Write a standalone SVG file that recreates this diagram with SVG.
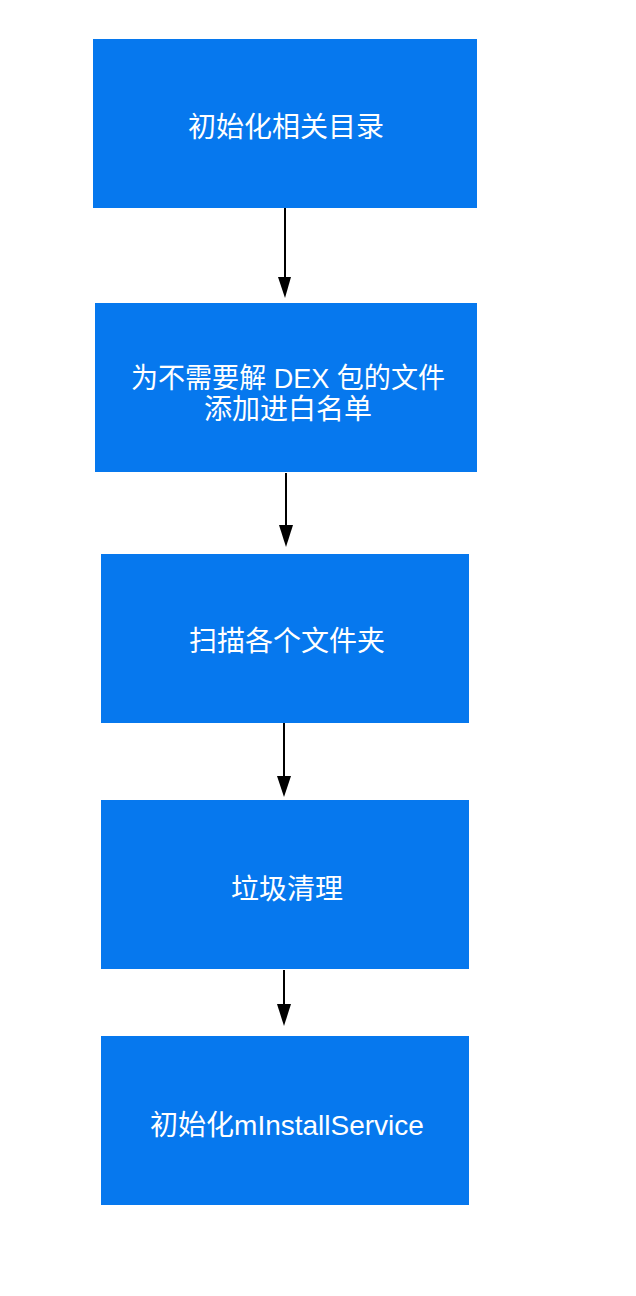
<svg xmlns="http://www.w3.org/2000/svg" width="636" height="1296" viewBox="0 0 636 1296">
<style>
.box{fill:#0678EE;}
.t{font-family:"Liberation Sans","Noto Sans CJK SC",sans-serif;font-size:28px;fill:#ffffff;text-anchor:middle;dominant-baseline:central;}
.c{stroke:#000;stroke-width:2;fill:none;}
</style>
<rect width="636" height="1296" fill="#fff"/>
<g id="connectors">
<line class="c" x1="285" y1="208" x2="285" y2="278"/><path d="M278 277 L291 277 L285 298 Z"/>
<line class="c" x1="286" y1="473" x2="286" y2="526"/><path d="M279 525 L293 525 L286 547 Z"/>
<line class="c" x1="284" y1="723" x2="284" y2="777"/><path d="M277 776 L291 776 L284 797 Z"/>
<line class="c" x1="284" y1="970" x2="284" y2="1005"/><path d="M277 1004 L291 1004 L284 1026 Z"/>
</g>
<g id="n1"><rect class="box" x="93" y="39" width="384" height="169"/><text class="t" x="286" y="127">初始化相关目录</text></g>
<g id="n2"><rect class="box" x="95" y="303" width="382" height="169"/><text class="t" x="288" y="378" textLength="314" lengthAdjust="spacingAndGlyphs">为不需要解 DEX 包的文件</text><text class="t" x="288" y="409">添加进白名单</text></g>
<g id="n3"><rect class="box" x="101" y="554" width="368" height="169"/><text class="t" x="287" y="641">扫描各个文件夹</text></g>
<g id="n4"><rect class="box" x="101" y="800" width="368" height="169"/><text class="t" x="287" y="889">垃圾清理</text></g>
<g id="n5"><rect class="box" x="101" y="1036" width="368" height="169"/><text class="t" x="287" y="1125">初始化mInstallService</text></g>
</svg>
